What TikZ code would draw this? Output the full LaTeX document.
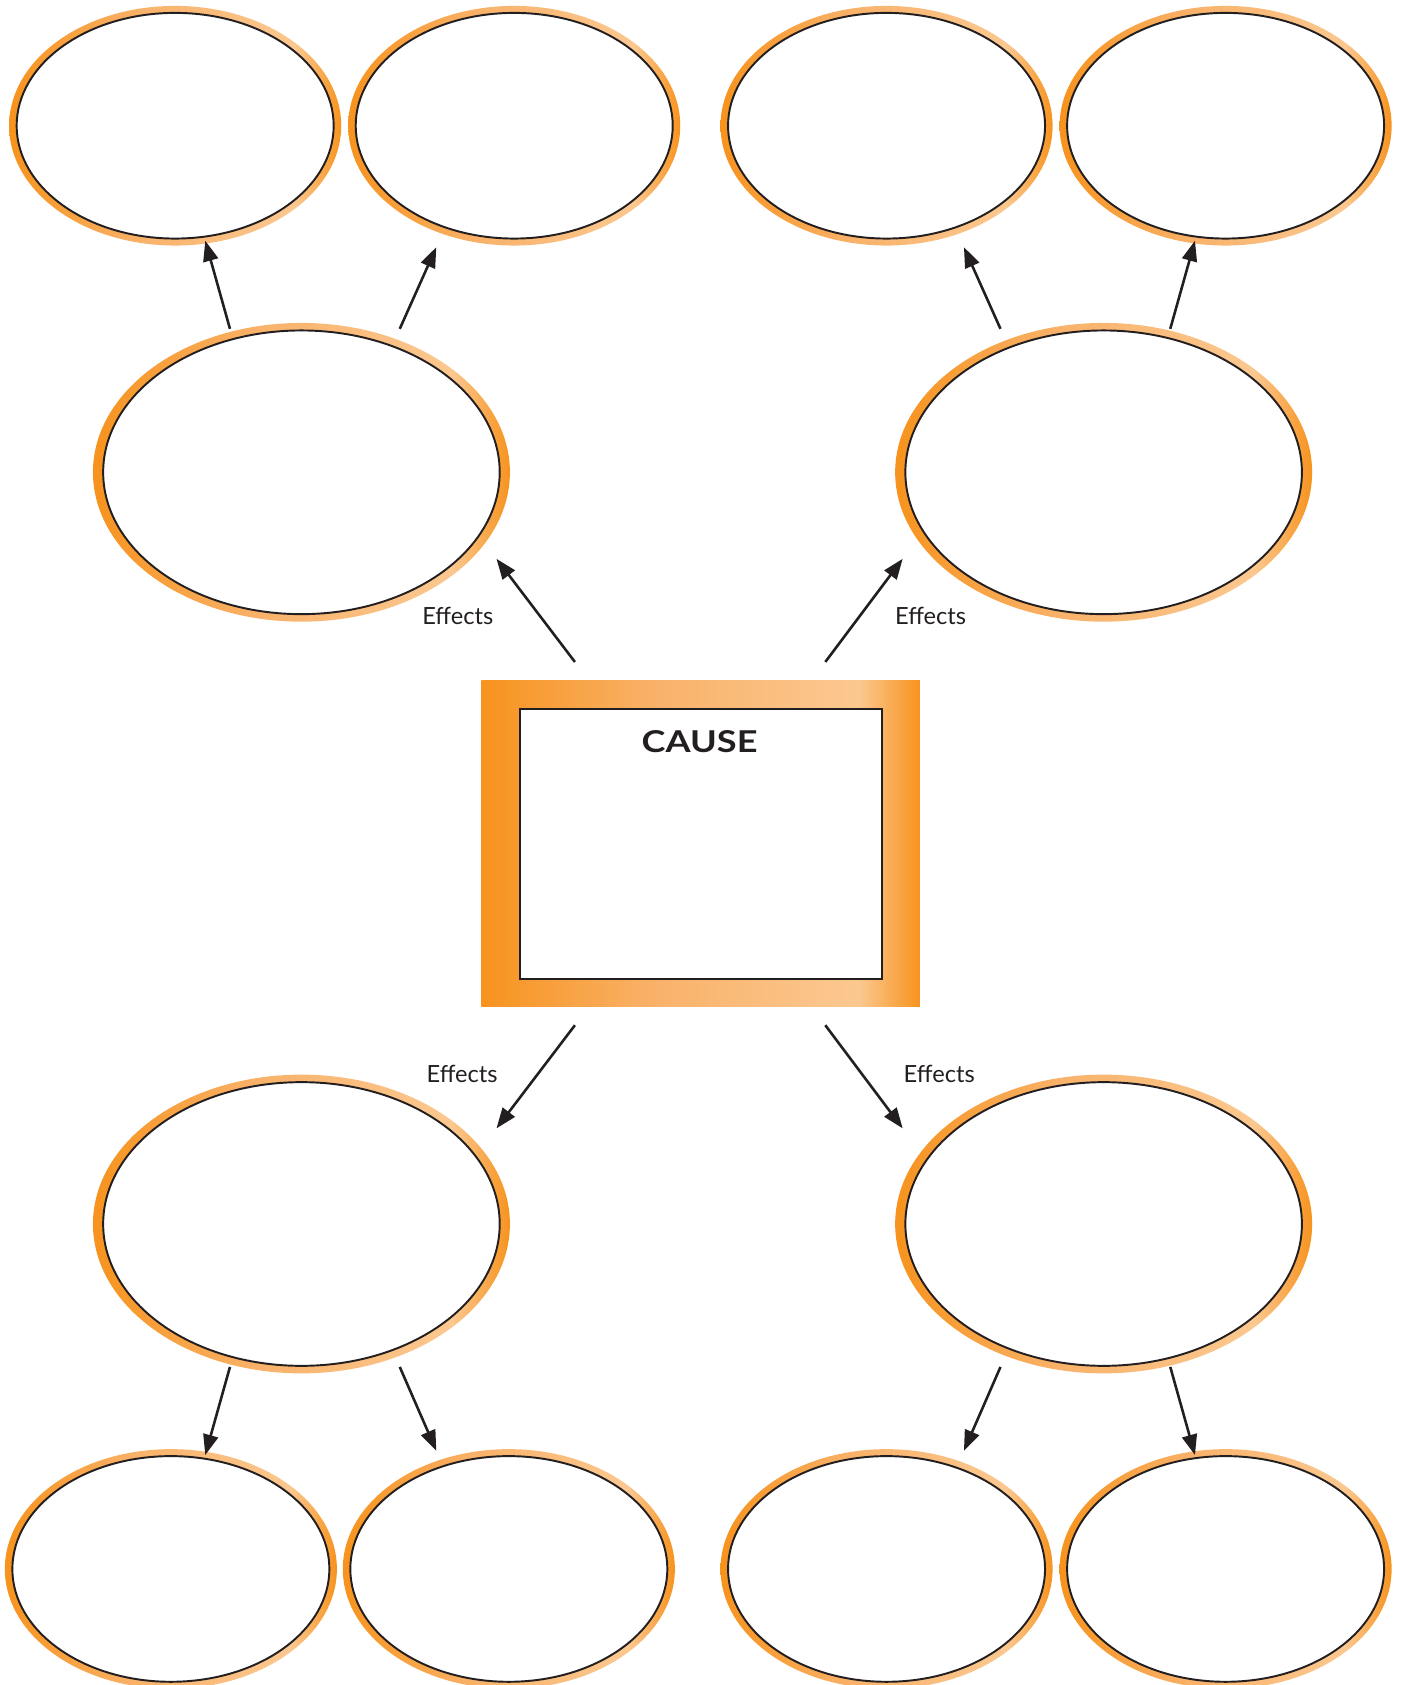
\documentclass[tikz,border=0pt]{standalone}
\usepackage{fontspec}
\setmainfont{Lato}
\usetikzlibrary{arrows.meta,shapes.geometric}
\definecolor{oD}{HTML}{F7931E}
\definecolor{oM}{HTML}{F9B26A}
\definecolor{oL}{HTML}{FBC890}
\definecolor{ink}{HTML}{231F20}
\pgfdeclarehorizontalshading{orshade}{100bp}{color(0bp)=(oD); color(25bp)=(oD); color(45bp)=(oM); color(68bp)=(oL); color(75bp)=(oD); color(100bp)=(oD)}
\begin{document}
\begin{tikzpicture}[x=1pt,y=-1pt,
  ring/.style={ellipse, inner sep=0pt, outer sep=0pt, shade, shading=orshade},
  core/.style={ellipse, inner sep=0pt, outer sep=0pt, fill=white, draw=ink, line width=1.8pt},
  smallring/.style={ring, minimum width=309pt, minimum height=223pt},
  smallcore/.style={core, minimum width=295pt, minimum height=210pt},
  bigring/.style={ring, minimum width=388pt, minimum height=278pt},
  bigcore/.style={core, minimum width=369pt, minimum height=264pt},
  arr/.style={line width=2.4pt, draw=ink, -{Triangle[length=19pt,width=14pt]}},
  lbl/.style={font=\fontsize{22}{24}\selectfont, text=ink, inner sep=0pt},
]
\useasboundingbox (0,0) rectangle (1304,1568);
% top small ellipses
\node[smallring] (s1) at (163,117) {};   \node[smallcore] (s1c) at (s1) {};
\node[smallring] (s2) at (478.5,117) {}; \node[smallcore] (s2c) at (s2) {};
\node[smallring] (s3) at (825,117) {};   \node[smallcore] (s3c) at (s3) {};
\node[smallring] (s4) at (1140.5,117) {};\node[smallcore] (s4c) at (s4) {};
% bottom small ellipses
\node[smallring] (s5) at (159,1460) {};  \node[smallcore] (s5c) at (s5) {};
\node[smallring] (s6) at (473.5,1460) {};\node[smallcore] (s6c) at (s6) {};
\node[smallring] (s7) at (825,1460) {};  \node[smallcore] (s7c) at (s7) {};
\node[smallring] (s8) at (1140.5,1460) {};\node[smallcore] (s8c) at (s8) {};
% mid ellipses
\node[bigring] (m1) at (280.5,439.5) {}; \node[bigcore] (m1c) at (m1) {};
\node[bigring] (m2) at (1027,439.5) {};  \node[bigcore] (m2c) at (m2) {};
\node[bigring] (m3) at (280.5,1139) {};  \node[bigcore] (m3c) at (m3) {};
\node[bigring] (m4) at (1027,1139) {};   \node[bigcore] (m4c) at (m4) {};
% cause box
\node[rectangle, shade, shading=orshade, minimum width=408pt, minimum height=304pt, inner sep=0pt, outer sep=0pt] (cause) at (652,785) {};
\node[rectangle, draw=ink, fill=white, line width=1.8pt, minimum width=337pt, minimum height=251pt, inner sep=0pt] (causein) at (652.5,785.5) {};
\node[font=\fontsize{28}{30}\selectfont\bfseries, text=ink, inner sep=0pt] (ctitle) at (651,690) {\scalebox{1.2}[1]{CAUSE}};
% arrows: cause -> mid
\draw[arr] ([shift={(-117,-169)}]cause.center) -- ([shift={(181.5,80.5)}]m1.center);
\draw[arr] ([shift={(116,-169)}]cause.center) -- ([shift={(-187,80.5)}]m2.center);
\draw[arr] ([shift={(-117,169)}]cause.center) -- ([shift={(181.5,-89)}]m3.center);
\draw[arr] ([shift={(116,169)}]cause.center) -- ([shift={(-187,-89)}]m4.center);
% arrows: mid -> small
\draw[arr] ([shift={(-66.5,-133.5)}]m1.center) -- ([shift={(28,107)}]s1.center);
\draw[arr] ([shift={(91.5,-133.5)}]m1.center) -- ([shift={(-72.5,113)}]s2.center);
\draw[arr] ([shift={(-96,-133.5)}]m2.center) -- ([shift={(72,113)}]s3.center);
\draw[arr] ([shift={(62,-133.5)}]m2.center) -- ([shift={(-28.5,107)}]s4.center);
\draw[arr] ([shift={(-66.5,133)}]m3.center) -- ([shift={(32,-106)}]s5.center);
\draw[arr] ([shift={(91.5,133)}]m3.center) -- ([shift={(-67.5,-110)}]s6.center);
\draw[arr] ([shift={(-96,133)}]m4.center) -- ([shift={(72,-110)}]s7.center);
\draw[arr] ([shift={(62,133)}]m4.center) -- ([shift={(-28.5,-106)}]s8.center);
% labels
\node[lbl] (e1) at (426,573) {Effects};
\node[lbl] (e2) at (866,573) {Effects};
\node[lbl] (e3) at (430,999) {Effects};
\node[lbl] (e4) at (874,999) {Effects};
\end{tikzpicture}
\end{document}
